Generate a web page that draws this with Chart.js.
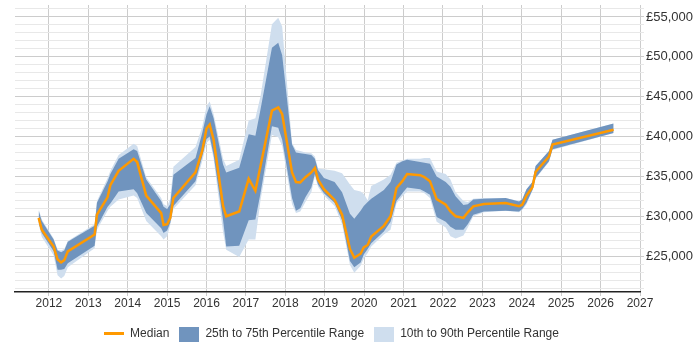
<!DOCTYPE html>
<html><head><meta charset="utf-8">
<script src="https://cdn.jsdelivr.net/npm/chart.js@4/dist/chart.umd.min.js"></script>
<style>html,body{margin:0;padding:0;background:#fff}</style>
</head><body>
<canvas id="c" width="700" height="350"></canvas>
<script>
// Decimal-year sample positions
const years = [2011.74,2011.82,2012.12,2012.22,2012.31,2012.39,2012.48,2013.16,2013.22,2013.49,2013.56,2013.77,2014.15,2014.24,2014.47,2014.85,2014.91,2015.00,2015.08,2015.16,2015.72,2015.89,2016.00,2016.08,2016.18,2016.42,2016.50,2016.83,2017.07,2017.24,2017.37,2017.66,2017.82,2017.92,2018.17,2018.27,2018.38,2018.51,2018.66,2018.75,2018.83,2018.98,2019.25,2019.44,2019.64,2019.75,2019.91,2019.99,2020.09,2020.18,2020.50,2020.67,2020.82,2020.97,2021.09,2021.42,2021.53,2021.67,2021.84,2022.07,2022.19,2022.32,2022.52,2022.63,2022.77,2023.04,2023.59,2023.93,2024.01,2024.12,2024.27,2024.35,2024.69,2024.78,2026.33];
const median = [29800,28300,26200,24600,24200,24500,25600,27700,30200,32400,33900,35700,37200,36800,32600,30400,28900,29000,29800,32300,35500,38200,41000,41500,39600,31300,30000,30600,34700,33200,36300,43250,43650,42800,35500,34300,34250,34900,35500,36050,34600,33400,32050,30200,25900,24800,25300,26100,26400,27450,28800,30000,33550,34400,35300,35150,34900,34400,32150,31450,30600,30000,29800,30500,31250,31550,31650,31250,31450,32600,33650,35550,37500,39000,40850];
const p25 = [29200,27900,25600,23300,23300,23400,24100,26300,28700,31200,31600,33100,33400,32900,30400,28500,27900,28200,29200,31300,34400,37500,39700,40000,37700,29500,26200,26300,29500,29600,32900,41300,41100,39600,32300,30700,31000,32400,33600,35300,34000,32900,31700,29500,24400,23600,24200,25200,25900,26600,28100,29300,31900,32900,33600,33400,33100,32700,29900,29300,28700,28300,28300,29000,30200,30600,30700,30600,30900,31700,33300,34800,36900,38400,40450];
const p75 = [30700,29400,27100,25700,25500,25700,26800,28800,31700,34400,35300,37200,38400,38200,34600,31900,31200,30900,31500,35200,37300,40400,42800,43800,42300,36500,35500,36100,40300,40100,43400,51150,51750,50200,39000,38000,37900,37800,37700,37200,35800,34800,34300,33000,30300,29700,30700,31300,31800,32200,33300,34300,36500,36900,37100,36800,36700,36600,35000,34300,33700,32500,31400,31500,32100,32200,32300,31850,32100,33400,34300,36300,38200,39600,41650];
const p10 = [29000,27400,25100,22600,22200,22500,23600,26000,28300,30700,31200,32100,32600,32300,29400,27500,27100,27500,28900,30900,33900,36900,39200,39600,37200,28000,25800,24900,27100,27100,32000,40200,39900,38800,31500,30400,30600,31800,33000,35000,33700,32600,31300,29000,23900,22900,23800,24700,25400,26200,27700,28300,31600,32500,33100,33100,32900,32300,29300,28600,27500,27200,27600,28600,30000,30500,30700,30500,30800,31500,33200,34700,36800,38300,40450];
const p90 = [30900,29600,27200,25800,25700,25900,26900,29000,31900,34800,35700,37700,39100,38800,34900,32300,31500,31300,32200,36200,38700,41200,43800,44400,42800,37200,36300,37100,42000,42300,45050,54100,54900,53800,39200,38300,38200,38000,37900,37500,36000,35900,35700,35400,34000,33300,33100,32800,32000,33800,34600,35200,36700,37000,37200,37200,37300,37300,35600,35300,34600,33000,31900,31800,32200,32300,32300,31900,32100,33400,34300,36300,38200,39600,41650];
const yearTicks = [2012,2013,2014,2015,2016,2017,2018,2019,2020,2021,2022,2023,2024,2025,2026,2027];
const labels = ['Median','25th to 75th Percentile Range','10th to 90th Percentile Range'];

const ORANGE = '#ff9900', DARK = '#7094be', LIGHT = '#cfdeee';
const pts = arr => arr.map((v,i)=>({x:years[i], y:v}));

function swatch(color, line){
  const c = document.createElement('canvas'); c.width = 20; c.height = line ? 4 : 15;
  const g = c.getContext('2d'); g.fillStyle = color;
  if (line) g.fillRect(0,0,20,3); else g.fillRect(0,0,20,15);
  return c;
}
const swatches = [swatch(ORANGE,true), swatch(DARK,false), swatch(LIGHT,false)];

const legendShift = {
  id:'legendShift',
  afterLayout(chart){ const l = chart.legend; if(l){ l.left -= 26; l.right -= 26; } }
};

new Chart(document.getElementById('c'), {
  type:'line',
  data:{ datasets:[
    {label:labels[0], data:pts(median), borderColor:ORANGE, borderWidth:2.5, pointRadius:0, fill:false, tension:0},
    {label:labels[1], data:pts(p75), borderWidth:0, borderColor:DARK, backgroundColor:DARK, pointRadius:0, fill:'+1', tension:0},
    {label:'p25', data:pts(p25), borderWidth:0, pointRadius:0, fill:false, tension:0},
    {label:labels[2], data:pts(p90), borderWidth:0, borderColor:LIGHT, backgroundColor:LIGHT, pointRadius:0, fill:'+1', tension:0},
    {label:'p10', data:pts(p10), borderWidth:0, pointRadius:0, fill:false, tension:0}
  ]},
  options:{
    responsive:false, animation:false, devicePixelRatio:1,
    layout:{padding:{left:15, top:5, right:0, bottom:0}},
    plugins:{
      tooltip:{enabled:false},
      legend:{position:'bottom',
        labels:{usePointStyle:true, pointStyleWidth:20, boxHeight:12, padding:10,
          font:{family:'"Liberation Sans", Arial, sans-serif', size:12}, color:'#333',
          generateLabels:()=>labels.map((t,i)=>({text:t, pointStyle:swatches[i], fillStyle:'#fff', strokeStyle:'#fff', lineWidth:0, hidden:false, datasetIndex:[0,1,3][i], fontColor:'#333'}))
        }}
    },
    scales:{
      x:{type:'linear', min:2011.14, max:2027,
        afterBuildTicks:s=>{ s.ticks = yearTicks.map(v=>({value:v})); },
        afterFit:s=>{ s.height = 26; s.paddingLeft = 0; s.paddingRight = 0; },
        ticks:{padding:0, autoSkip:false, maxRotation:0, callback:v=>String(v), color:'#333',
          font:{family:'"Liberation Sans", Arial, sans-serif', size:12}},
        grid:{color:'#cccccc', tickLength:4, lineWidth:1},
        border:{display:true, color:'#222', width:1.5}
      },
      y:{position:'right', min:20500, max:56500,
        afterBuildTicks:s=>{ const t=[]; for(let v=21000; v<=56000; v+=1000) t.push({value:v}); s.ticks=t; },
        afterFit:s=>{ s.width = 60; s.paddingTop = 0; s.paddingBottom = 0; },
        ticks:{padding:2, autoSkip:false, color:'#333',
          callback:v=> v%5000===0 ? '£'+v.toLocaleString('en-GB') : '',
          font:{family:'"Liberation Sans", Arial, sans-serif', size:13}},
        grid:{color:c=> (c.tick && c.tick.value%5000===0) ? '#cccccc' : '#e8e8e8', tickLength:4, lineWidth:1},
        border:{display:false}
      }
    }
  },
  plugins:[legendShift]
});
</script>
</body></html>
